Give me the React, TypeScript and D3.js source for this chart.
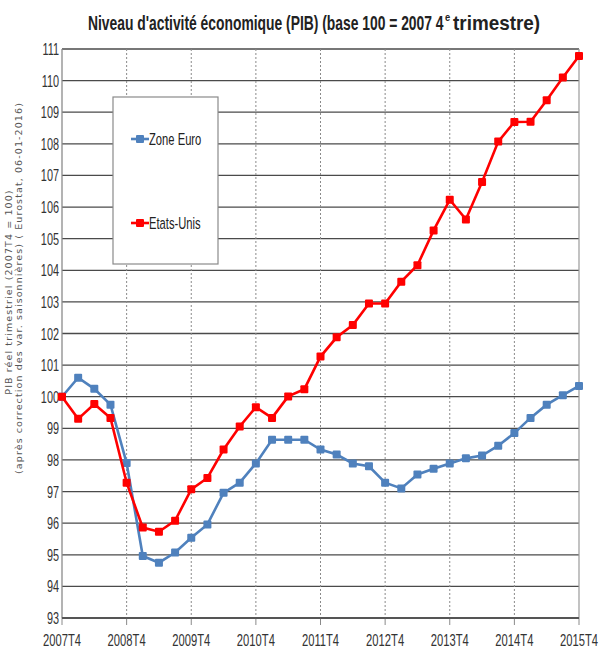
import React from "react";
import * as d3 from "d3";

const xTickLabels = ["2007T4", "2008T4", "2009T4", "2010T4", "2011T4", "2012T4", "2013T4", "2014T4", "2015T4"];
const yTicks = [93, 94, 95, 96, 97, 98, 99, 100, 101, 102, 103, 104, 105, 106, 107, 108, 109, 110, 111];

const zoneEuro = [
  100.0, 100.6, 100.25, 99.75, 97.9, 94.96, 94.75, 95.07, 95.54, 95.96, 96.96, 97.28,
  97.89, 98.64, 98.64, 98.64, 98.33, 98.17, 97.89, 97.8, 97.28, 97.1, 97.54, 97.72,
  97.89, 98.05, 98.14, 98.45, 98.85, 99.33, 99.75, 100.05, 100.34,
];
const etatsUnis = [
  100.0, 99.3, 99.77, 99.33, 97.28, 95.86, 95.73, 96.08, 97.07, 97.43, 98.33, 99.06,
  99.67, 99.33, 100.01, 100.24, 101.27, 101.88, 102.27, 102.95, 102.95, 103.64, 104.16, 105.26,
  106.23, 105.61, 106.79, 108.07, 108.69, 108.7, 109.38, 110.1, 110.78,
];

const W = 599;
const H = 652;
const left = 62;
const right = 579;
const top = 49;
const bottom = 618;

const BLUE = "#4F81BD";
const RED = "#FF0000";
const SANS = "'Liberation Sans', Arial, sans-serif";

function NText(props: {
  x: number;
  y: number;
  anchor?: "start" | "middle" | "end";
  size: number;
  sx: number;
  children: React.ReactNode;
  fill?: string;
  weight?: string;
}) {
  return (
    <text
      transform={`translate(${props.x},${props.y}) scale(${props.sx},1)`}
      textAnchor={props.anchor || "start"}
      fontFamily={SANS}
      fontSize={props.size}
      fontWeight={props.weight || "normal"}
      fill={props.fill || "#333"}
    >
      {props.children}
    </text>
  );
}

export default function App() {
  const x = d3.scaleLinear().domain([0, 32]).range([left, right]);
  const y = d3.scaleLinear().domain([93, 111]).range([bottom, top]);
  const line = d3.line<number>().x((_, i) => x(i)).y((d) => y(d));
  const ms = 8;

  const series = [
    { name: "Zone Euro", values: zoneEuro, color: BLUE },
    { name: "Etats-Unis", values: etatsUnis, color: RED },
  ];

  return (
    <svg width={W} height={H} style={{ position: "absolute", left: 0, top: 0, background: "#fff" }}>
      <rect x={0} y={0} width={W} height={H} fill="#fff" />
      {/* title */}
      <NText x={88} y={30} size={21} sx={0.66} weight="bold" fill="#222">
        Niveau d'activité économique (PIB)  (base 100 = 2007 4
      </NText>
      <NText x={445} y={21} size={11} sx={0.85} weight="bold" fill="#222">
        e
      </NText>
      <NText x={453} y={30} size={21} sx={0.9} weight="bold" fill="#222">
        trimestre)
      </NText>

      {/* horizontal gridlines */}
      {yTicks.map((t) => (
        <g key={"h" + t}>
          <line x1={left} x2={right} y1={y(t)} y2={y(t)} stroke="#4a4a4a" strokeWidth={1.3} />
          <NText x={left - 3} y={y(t) + 6} anchor="end" size={16.5} sx={0.66}>
            {t}
          </NText>
        </g>
      ))}
      {/* vertical gridlines */}
      {xTickLabels.map((lab, i) => (
        <g key={"v" + lab}>
          {i > 0 && i < xTickLabels.length - 1 && (
            <line
              x1={x(i * 4)}
              x2={x(i * 4)}
              y1={top}
              y2={bottom}
              stroke="#8a8a8a"
              strokeWidth={1}
              strokeDasharray="2,2"
            />
          )}
          <line x1={x(i * 4)} x2={x(i * 4)} y1={bottom} y2={bottom + 7} stroke="#8a8a8a" strokeWidth={1} />
          <NText x={x(i * 4)} y={bottom + 28} anchor="middle" size={16.5} sx={0.68}>
            {lab}
          </NText>
        </g>
      ))}
      <line x1={left} x2={left} y1={top} y2={bottom} stroke="#8a8a8a" strokeWidth={1.3} />
      <line x1={right} x2={right} y1={top} y2={bottom} stroke="#9a9a9a" strokeWidth={1.2} />
      <line x1={left} x2={right} y1={bottom} y2={bottom} stroke="#4a4a4a" strokeWidth={1.5} />

      {/* y axis title */}
      <g fontFamily="'DejaVu Sans', sans-serif" fontSize={9.5} fill="#555" letterSpacing={1.1}>
        <text transform={`translate(12,${292}) rotate(-90)`} textAnchor="middle">
          PIB réel trimestriel (2007T4 = 100)
        </text>
        <text transform={`translate(22,${288}) rotate(-90)`} textAnchor="middle">
          (après correction des var. saisonnières) ( Eurostat, 06-01-2016)
        </text>
      </g>

      {/* series */}
      {series.map((s) => (
        <g key={s.name}>
          <path d={line(s.values) || ""} fill="none" stroke={s.color} strokeWidth={2.6} />
          {s.values.map((v, i) => (
            <rect
              key={i}
              x={x(i) - ms / 2}
              y={y(v) - ms / 2}
              width={ms}
              height={ms}
              rx={1}
              fill={s.color}
            />
          ))}
        </g>
      ))}

      {/* legend */}
      <rect x={113} y={97} width={105} height={167} fill="#fff" stroke="#8a8a8a" strokeWidth={1.2} />
      {series.map((s, i) => {
        const ly = i === 0 ? 139 : 223;
        return (
          <g key={"lg" + s.name}>
            <line x1={131} x2={149} y1={ly} y2={ly} stroke={s.color} strokeWidth={2.6} />
            <rect x={140 - ms / 2} y={ly - ms / 2} width={ms} height={ms} rx={1} fill={s.color} />
            <NText x={149} y={ly + 6} size={16.5} sx={0.68} fill="#222">
              {s.name}
            </NText>
          </g>
        );
      })}
    </svg>
  );
}
